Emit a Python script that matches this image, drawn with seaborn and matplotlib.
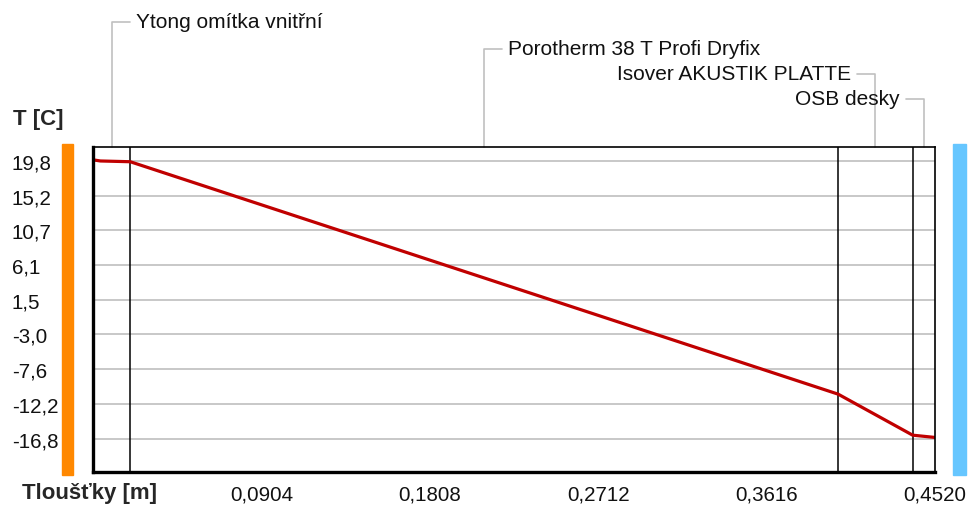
import numpy as np
import matplotlib
matplotlib.use('Agg')
import matplotlib.pyplot as plt
import matplotlib.transforms as mtransforms
from matplotlib.patches import Rectangle
import seaborn as sns

# ── DATA ───────────────────────────────────────────────
layer_names = ['Ytong omítka vnitřní', 'Porotherm 38 T Profi Dryfix',
               'Isover AKUSTIK PLATTE', 'OSB desky']
layer_thick = [0.02, 0.38, 0.04, 0.012]   # m

depth = [0.0, 0.004, 0.02, 0.40, 0.44, 0.452]      # m
temp = [19.95, 19.8, 19.7, -10.9, -16.3, -16.6]    # C

y_ticks = [19.8, 15.2, 10.7, 6.1, 1.5, -3.0, -7.6, -12.2, -16.8]
y_labels = ['19,8', '15,2', '10,7', '6,1', '1,5', '-3,0', '-7,6', '-12,2', '-16,8']
x_ticks = [0.0904, 0.1808, 0.2712, 0.3616, 0.4520]
x_labels = ['0,0904', '0,1808', '0,2712', '0,3616', '0,4520']
x_minor = [0.0452, 0.1356, 0.2260, 0.3164, 0.4068]

# ── STYLE ──────────────────────────────────────────────
sns.set_style('white')
plt.rcParams['font.family'] = ['Liberation Sans', 'DejaVu Sans']

W, H = 970, 506
fig = plt.figure(figsize=(W / 100, H / 100), dpi=100)
ax_l, ax_r, ax_t, ax_b = 93, 935, 148, 473
ax = fig.add_axes([ax_l / W, 1 - ax_b / H, (ax_r - ax_l) / W, (ax_b - ax_t) / H])

total = sum(layer_thick)
ax.set_xlim(0, total)
ax.set_ylim(-21.15, 21.64)

# gridlines
for yv in y_ticks:
    ax.axhline(yv, color='#c8c8c8', lw=1.4, zorder=1)

# layer boundaries
bounds = np.cumsum(layer_thick)
ax.vlines(bounds[:-1], -21.15, 21.64, color='black', lw=1.1, zorder=2)

# temperature curve
sns.lineplot(x=depth, y=temp, ax=ax, color='#c00000', lw=2.3, zorder=3,
             sort=False, estimator=None)

# axes frame
for s in ['left', 'bottom']:
    ax.spines[s].set_linewidth(2.4)
for s in ['top', 'right']:
    ax.spines[s].set_linewidth(1.2)
for s in ax.spines.values():
    s.set_color('black')
    s.set_zorder(5)

ax.set_yticks(y_ticks)
ax.set_yticklabels(y_labels, ha='left')
ax.tick_params(axis='y', length=0, pad=58.5, labelsize=14.8, labelcolor='#111111')
ax.set_xticks(x_ticks)
ax.set_xticklabels(x_labels)
ax.set_xticks(x_minor, minor=True)
ax.tick_params(axis='x', which='both', direction='in', length=7, width=1,
               color='#b4b4b4', pad=9, labelsize=14.8, labelcolor='#111111')

# interior / exterior bars
ax.add_patch(Rectangle(((62 - ax_l) / (ax_r - ax_l), -0.01), 11 / (ax_r - ax_l), 1.02,
                       transform=ax.transAxes, color='#ff8800', clip_on=False))
ax.add_patch(Rectangle(((953 - ax_l) / (ax_r - ax_l), -0.01), 13 / (ax_r - ax_l), 1.02,
                       transform=ax.transAxes, color='#66c6ff', clip_on=False))

# layer labels with leader lines
trans = mtransforms.blended_transform_factory(ax.transData, ax.transAxes)
px = total / (ax_r - ax_l)
mids = bounds - np.array(layer_thick) / 2
label_y = [23, 50, 75, 100]
sides = [1, 1, -1, -1]
for name, xm, ly, side in zip(layer_names, mids, label_y, sides):
    yf = (ax_b - ly) / (ax_b - ax_t)
    xe = xm + side * 18 * px
    ax.plot([xm, xm, xe], [1.0, yf, yf], color='#c0c0c0', lw=1.2,
            transform=trans, clip_on=False, zorder=1)
    ax.text(xe + side * 6 * px, yf, name, transform=trans, fontsize=15,
            ha='left' if side > 0 else 'right', va='center', color='#111111')

fig.text(13 / W, 1 - 120 / H, 'T [C]', fontsize=16, fontweight='bold',
         ha='left', va='center')
fig.text(22 / W, 1 - 494 / H, 'Tloušťky [m]', fontsize=16, fontweight='bold',
         ha='left', va='center')

fig.savefig('out.png', dpi=100)
